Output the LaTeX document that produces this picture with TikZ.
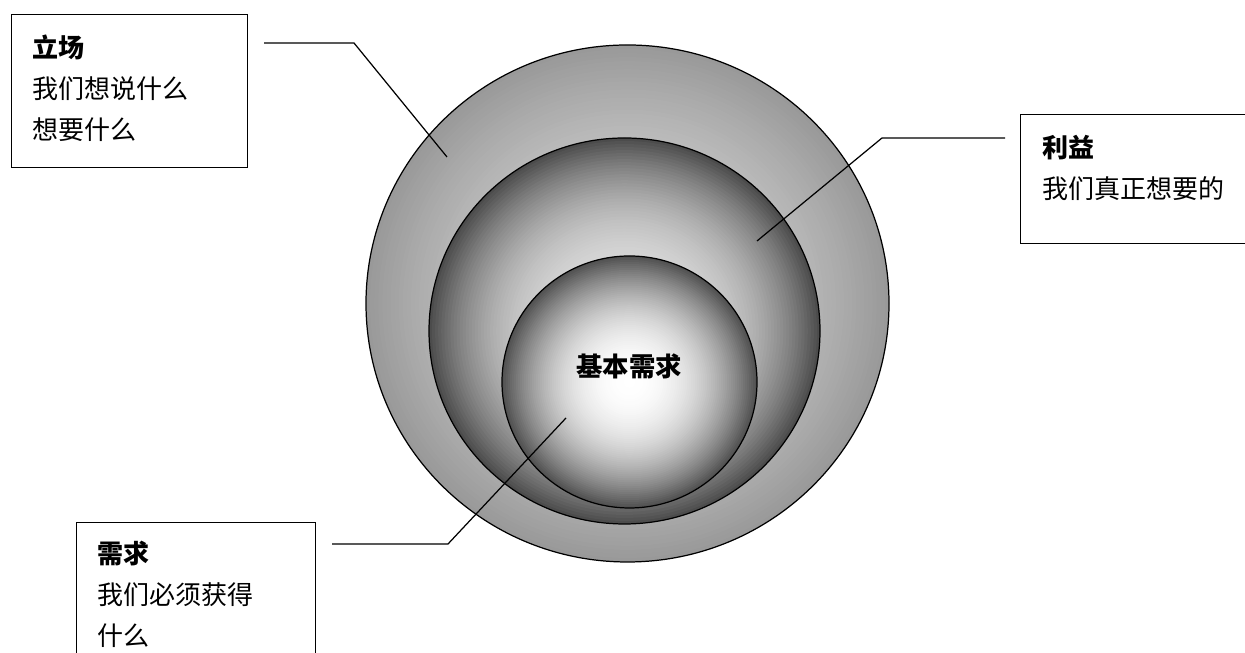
\documentclass[tikz,border=0pt]{standalone}
\usepackage{fontspec}
\newfontfamily\cjk{Noto Sans CJK SC}
\usepackage{tikz}

\tikzset{
  box/.style={draw, line width=0.7pt, anchor=north west, inner sep=0pt},
  txt/.style={anchor=north west, inner sep=0pt, align=left, font=\cjk\fontsize{14.8pt}{23.3pt}\selectfont},
  link/.style={line width=0.7pt},
  rim/.style={draw, line width=0.7pt}
}

\begin{document}
\begin{tikzpicture}
\clip (0,0) rectangle (24.9,13.06);

\coordinate (outerc) at (12.55,6.99);
\coordinate (midc) at (12.49,6.44);
\coordinate (corec) at (12.59,5.42);

% gradients as stacked ellipses, darkest at the rim
\foreach \i in {64,63,...,1}{
   \pgfmathsetmacro\f{\i/64}
   \pgfmathsetmacro\k{12+28*\f^1.5}
   \fill[black!\k] (outerc) ellipse [x radius=5.23*\f, y radius=5.17*\f];
}
\draw[rim] (outerc) ellipse [x radius=5.23, y radius=5.17];

\foreach \i in {64,63,...,1}{
   \pgfmathsetmacro\f{\i/64}
   \pgfmathsetmacro\k{12+58*\f^2.8}
   \fill[black!\k] (midc) ellipse [x radius=3.91*\f, y radius=3.86*\f];
}
\draw[rim] (midc) ellipse [x radius=3.91, y radius=3.86];

\foreach \i in {64,63,...,1}{
   \pgfmathsetmacro\f{\i/64}
   \pgfmathsetmacro\k{68*\f^2.2}
   \fill[black!\k] (corec) ellipse [x radius=2.55*\f, y radius=2.52*\f];
}
\draw[rim] (corec) ellipse [x radius=2.55, y radius=2.52];

\node[font=\cjk\bfseries\fontsize{15pt}{18pt}\selectfont] (core) at (12.58,5.74) {基本需求};

\node[box, minimum width=4.72cm, minimum height=3.06cm] (pos) at (0.22,12.78) {};
\node[txt] (postxt) at ([xshift=0.42cm,yshift=-0.42cm]pos.north west) {\textbf{立场}\\我们想说什么\\想要什么};

\node[box, minimum width=5cm, minimum height=2.58cm] (int) at (20.4,10.78) {};
\node[txt] (inttxt) at ([xshift=0.44cm,yshift=-0.42cm]int.north west) {\textbf{利益}\\我们真正想要的};

\node[box, minimum width=4.78cm, minimum height=3cm] (need) at (1.52,2.62) {};
\node[txt] (needtxt) at ([xshift=0.42cm,yshift=-0.38cm]need.north west) {\textbf{需求}\\我们必须获得\\什么};

\coordinate (posbend) at (7.08,12.2);
\coordinate (posend) at (8.94,9.92);
\coordinate (intbend) at (17.64,10.3);
\coordinate (intend) at (15.14,8.24);
\coordinate (needbend) at (8.96,2.18);
\coordinate (needend) at (11.32,4.7);

\draw[link] ([xshift=0.32cm,yshift=-0.58cm]pos.north east) -- (posbend) -- (posend);
\draw[link] ([xshift=-0.3cm,yshift=-0.48cm]int.north west) -- (intbend) -- (intend);
\draw[link] ([xshift=0.32cm,yshift=-0.44cm]need.north east) -- (needbend) -- (needend);
\end{tikzpicture}
\end{document}
